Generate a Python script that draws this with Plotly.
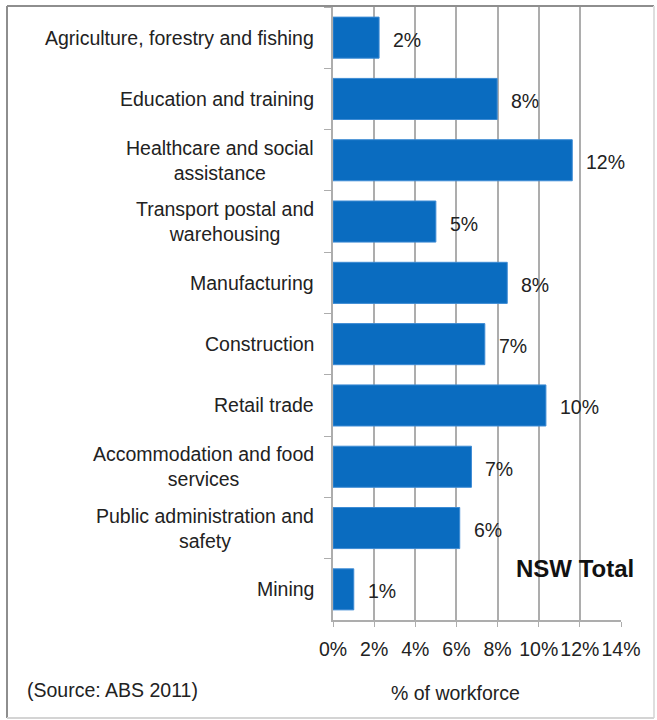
import plotly.graph_objects as go

# Share of NSW workforce by industry (ABS 2011)
industries = [
    "Agriculture, forestry and fishing",
    "Education and training",
    "Healthcare and social<br>assistance",
    "Transport postal and<br>warehousing",
    "Manufacturing",
    "Construction",
    "Retail trade",
    "Accommodation and food<br>services",
    "Public administration and<br>safety",
    "Mining",
]
workforce_pct = [2.24, 7.98, 11.63, 5.0, 8.47, 7.38, 10.35, 6.73, 6.16, 1.01]
x_ticks = [0, 2, 4, 6, 8, 10, 12, 14]
x_tick_labels = [f"{v}%" for v in x_ticks]

FONT = "Liberation Sans, Arial, sans-serif"
TXT = "#222222"
GRID = "#adadad"
BAR = "#0a6cc0"

W, H = 657, 720
ML, MR, MT, MB = 333, 36, 7, 100
PW, PH = W - ML - MR, H - MT - MB


def px_x(px):
    return (px - ML) / PW


def px_y(py):
    return (H - MB - py) / PH


fig = go.Figure(
    go.Bar(
        x=workforce_pct,
        y=industries,
        orientation="h",
        marker=dict(color=BAR, line=dict(color="#3d8bd4", width=1)),
        hoverinfo="x+y",
    )
)

annotations = []
# category labels: right-aligned block, lines centred within it
for name in industries:
    annotations.append(dict(
        xref="paper", yref="y", x=0, y=name, xanchor="right", yanchor="middle",
        xshift=-17, text=name, align="center", showarrow=False,
        font=dict(family=FONT, size=19.5, color=TXT),
    ))
# value labels next to each bar
for name, v in zip(industries, workforce_pct):
    annotations.append(dict(
        xref="x", yref="y", x=v, y=name, xanchor="left", yanchor="middle",
        xshift=12, yshift=-2, text=f"{v:.0f}%", showarrow=False,
        font=dict(family=FONT, size=19.5, color=TXT),
    ))
annotations += [
    dict(xref="paper", yref="paper", x=px_x(575), y=px_y(568),
         xanchor="center", yanchor="middle", text="<b>NSW Total</b>",
         showarrow=False, font=dict(family=FONT, size=24, color="#111111")),
    dict(xref="paper", yref="paper", x=px_x(455), y=px_y(693),
         xanchor="center", yanchor="middle", text="% of workforce",
         showarrow=False, font=dict(family=FONT, size=19.5, color=TXT)),
    dict(xref="paper", yref="paper", x=px_x(25), y=px_y(690),
         xanchor="left", yanchor="middle", text="(Source: ABS 2011)",
         showarrow=False, font=dict(family=FONT, size=19.5, color=TXT)),
]

# frame round the whole chart: darker left/top edges, faint right/bottom
fx0, fx1, fy0, fy1 = px_x(7), px_x(654), px_y(718), px_y(6)
frame = [
    (fx0, fy1, fx1, fy1, "#8e8e8e"),
    (fx0, fy0, fx0, fy1, "#8e8e8e"),
    (fx1, fy0, fx1, fy1, "#dedede"),
    (fx0, fy0, fx1, fy0, "#d4d4d4"),
]
shapes = [
    dict(type="line", xref="paper", yref="paper", x0=a, y0=b, x1=c, y1=d,
         line=dict(color=col, width=2), layer="below")
    for a, b, c, d, col in frame
]

fig.update_layout(
    width=W, height=H,
    margin=dict(l=ML, r=MR, t=MT, b=MB),
    paper_bgcolor="white", plot_bgcolor="white",
    bargap=0.33, showlegend=False,
    annotations=annotations,
    shapes=shapes,
    xaxis=dict(
        range=[0, 14], tickvals=x_ticks, ticktext=x_tick_labels,
        showgrid=True, gridcolor=GRID, gridwidth=1.5,
        showline=True, linecolor=GRID, linewidth=1.5,
        ticks="outside", ticklen=5, tickcolor=GRID,
        ticklabelstandoff=6,
        tickfont=dict(family=FONT, size=19.5, color=TXT),
        zeroline=False, fixedrange=True,
    ),
    yaxis=dict(
        autorange="reversed", showticklabels=False,
        showline=True, linecolor=GRID, linewidth=1.5,
        ticks="outside", tickson="boundaries", ticklen=7, tickcolor=GRID,
        showgrid=False, fixedrange=True,
    ),
)

fig.write_html("out.html")
